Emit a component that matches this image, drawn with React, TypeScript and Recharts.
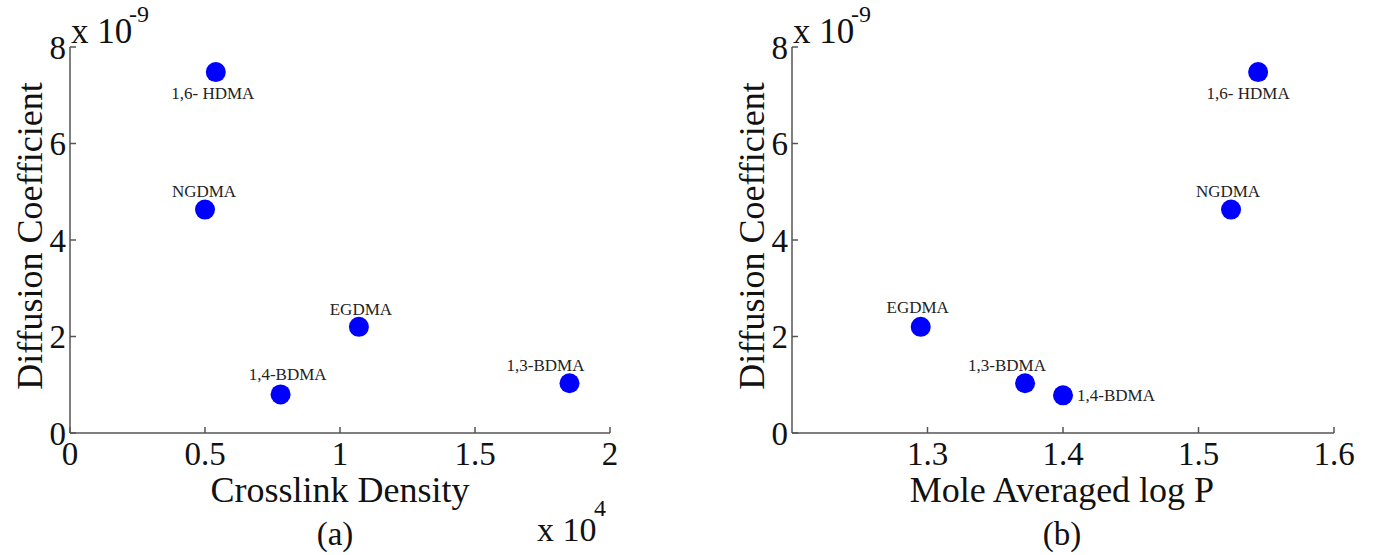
import React from 'react';
import { ScatterChart, Scatter, XAxis, YAxis } from 'recharts';

// Panel (a): crosslink density (x 10^4) vs diffusion coefficient (x 10^-9)
const monomersA = ['1,6- HDMA', 'NGDMA', 'EGDMA', '1,4-BDMA', '1,3-BDMA'];
const crosslinkDensity = [0.54, 0.5, 1.07, 0.78, 1.85];
const diffusionA = [7.48, 4.63, 2.2, 0.8, 1.03];

// Panel (b): mole averaged log P vs diffusion coefficient
const monomersB = ['1,6- HDMA', 'NGDMA', 'EGDMA', '1,3-BDMA', '1,4-BDMA'];
const moleLogP = [1.544, 1.524, 1.295, 1.372, 1.4];
const diffusionB = [7.48, 4.63, 2.2, 1.03, 0.78];

const ticksA = [0, 0.5, 1, 1.5, 2];
const ticksB = [1.3, 1.4, 1.5, 1.6];
const ticksY = [0, 2, 4, 6, 8];

// where each point label sits relative to its marker
const placeA: Record<string, [number, number, string]> = {
  '1,6- HDMA': [-3, 27, 'middle'],
  NGDMA: [-1, -13, 'middle'],
  EGDMA: [2, -12, 'middle'],
  '1,4-BDMA': [7, -14, 'middle'],
  '1,3-BDMA': [-24, -12, 'middle'],
};
const placeB: Record<string, [number, number, string]> = {
  '1,6- HDMA': [-10, 27, 'middle'],
  NGDMA: [-3, -13, 'middle'],
  EGDMA: [-3, -14, 'middle'],
  '1,3-BDMA': [-18, -12, 'middle'],
  '1,4-BDMA': [14, 6, 'start'],
};

const FONT = 'Liberation Serif, Tinos, DejaVu Serif, serif';
const AX = '#555';

const rowsA = monomersA.map((name, i) => ({ name, x: crosslinkDensity[i], y: diffusionA[i] }));
const rowsB = monomersB.map((name, i) => ({ name, x: moleLogP[i], y: diffusionB[i] }));

const fmt = (v: number) => String(v);
const blank = () => '';

const makeShape = (place: Record<string, [number, number, string]>) => (props: any) => {
  const { cx, cy, payload } = props;
  const [dx, dy, anchor] = place[payload.name];
  return (
    <g>
      <circle cx={cx} cy={cy} r={10} fill="#0000ff" />
      <text x={cx + dx} y={cy + dy} textAnchor={anchor as any} style={{ fontFamily: FONT }} fontSize={17} fill="#222">
        {payload.name}
      </text>
    </g>
  );
};

const tickStyle = { fontSize: 33, fill: '#111', style: { fontFamily: FONT } };

function Panel({ data, domain, ticks, yWidth, margin, width, place }: any) {
  return (
    <ScatterChart width={width} height={555} margin={margin} style={{ fontFamily: FONT }}>
      <XAxis
        xAxisId="b"
        type="number"
        dataKey="x"
        domain={domain}
        ticks={ticks}
        allowDataOverflow
        height={40}
        tickSize={-6}
        tickMargin={15}
        tickFormatter={fmt}
        tick={tickStyle}
        stroke={AX}
        strokeWidth={1.5}
      />
      <XAxis
        xAxisId="t"
        orientation="top"
        type="number"
        dataKey="x"
        domain={domain}
        ticks={ticks}
        allowDataOverflow
        height={0}
        tickSize={-6}
        tickFormatter={blank}
        stroke={AX}
        strokeWidth={1.5}
      />
      <YAxis
        yAxisId="l"
        type="number"
        dataKey="y"
        domain={[0, 8]}
        ticks={ticksY}
        width={yWidth}
        tickSize={-6}
        tickMargin={10}
        tickFormatter={fmt}
        tick={tickStyle}
        stroke={AX}
        strokeWidth={1.5}
      />
      <YAxis
        yAxisId="r"
        orientation="right"
        type="number"
        dataKey="y"
        domain={[0, 8]}
        ticks={ticksY}
        width={0}
        tickSize={-6}
        tickFormatter={blank}
        stroke={AX}
        strokeWidth={1.5}
      />
      <Scatter
        data={data}
        xAxisId="b"
        yAxisId="l"
        isAnimationActive={false}
        shape={makeShape(place)}
      />
    </ScatterChart>
  );
}

export default function App() {
  return (
    <div style={{ position: 'absolute', left: 0, top: 0, width: 1374, height: 555, background: '#fff', fontFamily: FONT }}>
      <div style={{ position: 'absolute', left: 0, top: 0 }}>
        <Panel
          data={rowsA}
          domain={[0, 2]}
          ticks={ticksA}
          yWidth={70}
          width={687}
          margin={{ top: 47, right: 77, bottom: 82, left: 0 }}
          place={placeA}
        />
      </div>
      <div style={{ position: 'absolute', left: 720, top: 0 }}>
        <Panel
          data={rowsB}
          domain={[1.2, 1.6]}
          ticks={ticksB}
          yWidth={72}
          width={654}
          margin={{ top: 47, right: 40, bottom: 82, left: 0 }}
          place={placeB}
        />
      </div>
      <svg
        width={1374}
        height={555}
        style={{ position: 'absolute', left: 0, top: 0, pointerEvents: 'none', fontFamily: FONT }}
        fill="#111"
      >
        <text x={71} y={43} fontSize={35}>x 10</text>
        <text x={129} y={22} fontSize={24}>-9</text>
        <text x={793} y={43} fontSize={35}>x 10</text>
        <text x={851} y={22} fontSize={24}>-9</text>
        <text x={42} y={236} fontSize={36} textAnchor="middle" transform="rotate(-90 42 236)">
          Diffusion Coefficient
        </text>
        <text x={764} y={236} fontSize={36} textAnchor="middle" transform="rotate(-90 764 236)">
          Diffusion Coefficient
        </text>
        <text x={340} y={502} fontSize={36} textAnchor="middle">Crosslink Density</text>
        <text x={537} y={541} fontSize={34}>x 10</text>
        <text x={594} y={516} fontSize={24}>4</text>
        <text x={1062} y={502} fontSize={36} textAnchor="middle">Mole Averaged log P</text>
        <text x={335} y={545} fontSize={33} textAnchor="middle">(a)</text>
        <text x={1062} y={545} fontSize={33} textAnchor="middle">(b)</text>
      </svg>
    </div>
  );
}
